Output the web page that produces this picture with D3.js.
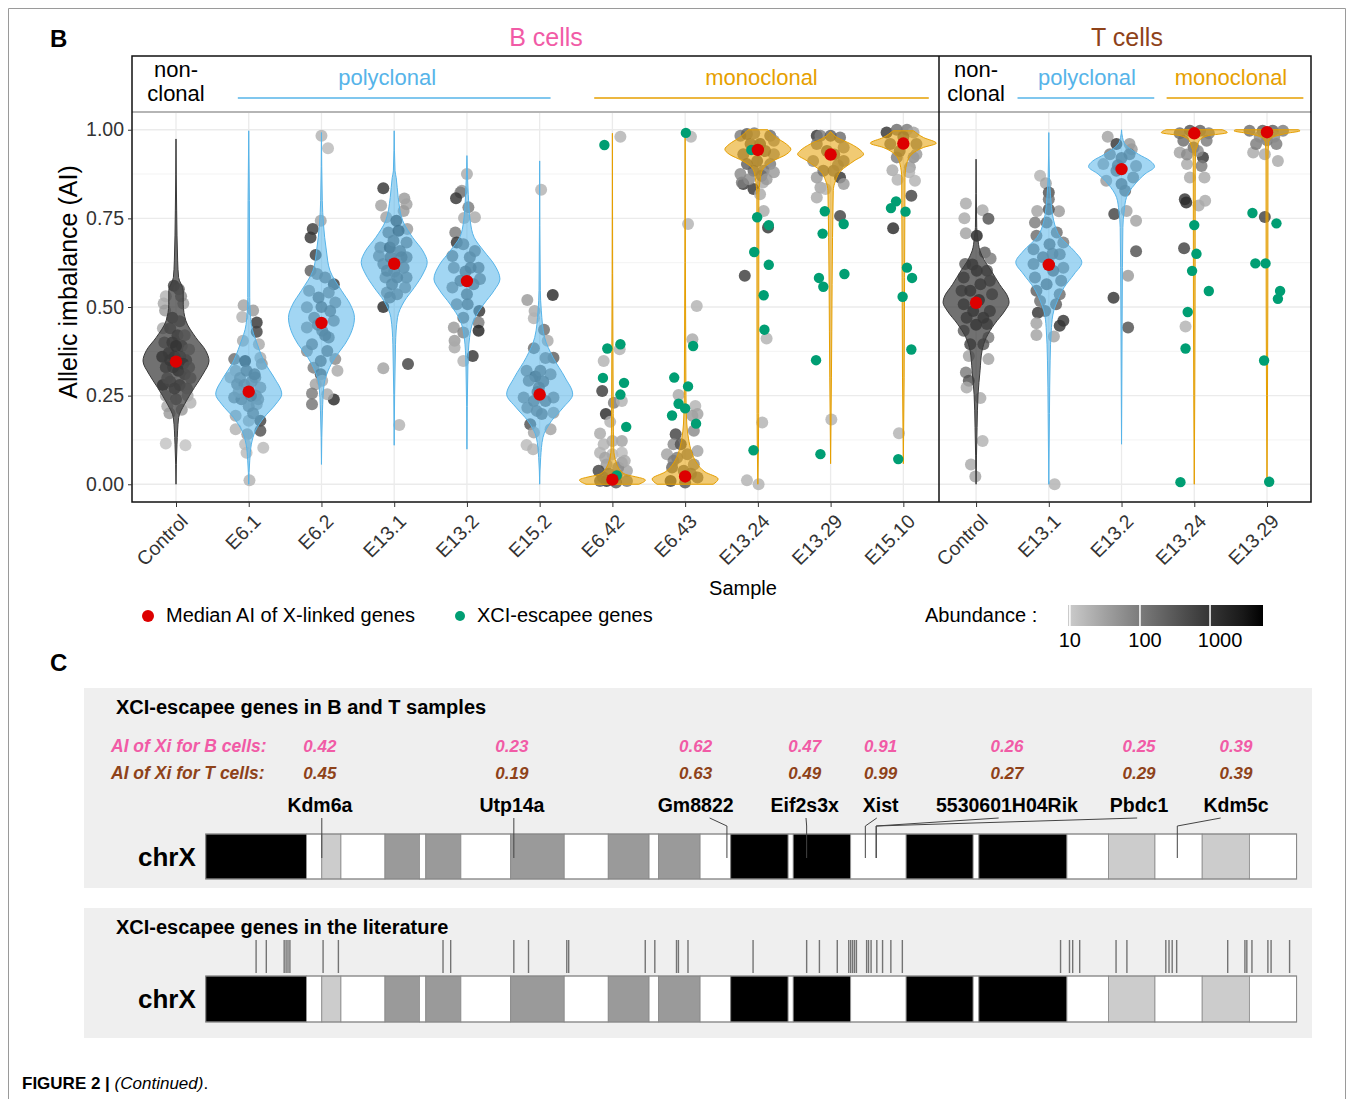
<!DOCTYPE html>
<html>
<head>
<meta charset="utf-8">
<script src="https://cdn.jsdelivr.net/npm/d3@7"></script>
<style>
  body { margin: 0; background: #fff; }
  text { font-family: "Liberation Sans", Arial, Helvetica, sans-serif; }
</style>
</head>
<body>
<div id="chart"></div>
<script>
// ---------- data: panel B ----------
const sampleIds = ["B_Control","B_E6.1","B_E6.2","B_E13.1","B_E13.2","B_E15.2","B_E6.42","B_E6.43","B_E13.24","B_E13.29","B_E15.10",
                   "T_Control","T_E13.1","T_E13.2","T_E13.24","T_E13.29"];
const sampleLabels = ["Control","E6.1","E6.2","E13.1","E13.2","E15.2","E6.42","E6.43","E13.24","E13.29","E15.10",
                      "Control","E13.1","E13.2","E13.24","E13.29"];
const clonality = ["non","poly","poly","poly","poly","poly","mono","mono","mono","mono","mono","non","poly","poly","mono","mono"];
const medianAI = [0.346,0.261,0.455,0.622,0.573,0.253,0.013,0.022,0.943,0.930,0.961,0.512,0.619,0.889,0.990,0.993];
const yTicks = [0, 0.25, 0.5, 0.75, 1];
const abundanceTicks = [10, 100, 1000];

// violin outline per sample: [AI, relative half width]
const violinShape = [
  [[0,0],[0.113,0.03],[0.188,0.08],[0.226,0.26],[0.273,0.56],[0.311,0.82],[0.348,1],[0.377,0.9],[0.414,0.6],[0.461,0.3],[0.508,0.22],[0.546,0.22],[0.583,0.08],[0.63,0.05],[0.771,0.02],[0.974,0]],
  [[0,0],[0.066,0.03],[0.113,0.08],[0.15,0.2],[0.188,0.46],[0.226,0.82],[0.254,1],[0.301,0.77],[0.339,0.51],[0.395,0.26],[0.451,0.08],[0.527,0.03],[0.8,0.02],[0.997,0]],
  [[0.056,0],[0.207,0.03],[0.282,0.08],[0.32,0.2],[0.357,0.41],[0.395,0.71],[0.433,0.92],[0.47,1],[0.508,0.87],[0.546,0.61],[0.602,0.26],[0.658,0.15],[0.734,0.06],[0.8,0.025],[0.992,0]],
  [[0.11,0],[0.395,0.04],[0.47,0.1],[0.517,0.31],[0.555,0.61],[0.593,0.87],[0.626,1],[0.658,0.87],[0.696,0.56],[0.743,0.26],[0.809,0.12],[0.865,0.06],[0.884,0.025],[0.997,0]],
  [[0.099,0],[0.339,0.03],[0.414,0.08],[0.461,0.2],[0.508,0.51],[0.546,0.82],[0.579,1],[0.621,0.82],[0.658,0.51],[0.696,0.22],[0.743,0.1],[0.818,0.04],[0.927,0]],
  [[0,0],[0.075,0.03],[0.132,0.1],[0.179,0.36],[0.216,0.71],[0.254,1],[0.301,0.77],[0.357,0.41],[0.414,0.15],[0.489,0.05],[0.546,0.02],[0.912,0]],
  [[0,0.8],[0.012,1],[0.03,0.35],[0.06,0.12],[0.1,0.04],[0.2,0.025],[0.99,0]],
  [[0,0.85],[0.015,1],[0.035,0.6],[0.06,0.35],[0.09,0.2],[0.13,0.1],[0.17,0.05],[0.25,0.025],[1,0]],
  [[0,0],[0.2,0.025],[0.809,0.03],[0.865,0.08],[0.889,0.15],[0.912,0.46],[0.931,0.87],[0.945,1],[0.959,0.87],[0.978,0.56],[1,0.3]],
  [[0.058,0],[0.3,0.025],[0.828,0.08],[0.856,0.15],[0.884,0.31],[0.912,0.71],[0.931,1],[0.941,0.92],[0.96,0.61],[0.978,0.2],[0.995,0]],
  [[0.058,0],[0.3,0.025],[0.865,0.05],[0.903,0.1],[0.931,0.26],[0.95,0.61],[0.962,1],[0.978,0.61],[0.997,0.31]],
  [[0,0],[0.16,0.03],[0.254,0.06],[0.32,0.12],[0.376,0.18],[0.414,0.31],[0.452,0.56],[0.489,0.87],[0.513,1],[0.527,0.97],[0.564,0.71],[0.602,0.46],[0.63,0.26],[0.658,0.12],[0.696,0.05],[0.724,0.02],[0.917,0]],
  [[0,0],[0.2,0.02],[0.348,0.04],[0.442,0.08],[0.489,0.15],[0.517,0.26],[0.555,0.46],[0.593,0.77],[0.626,1],[0.658,0.77],[0.696,0.36],[0.743,0.15],[0.818,0.05],[0.865,0.02],[0.992,0]],
  [[0.113,0],[0.5,0.02],[0.724,0.04],[0.771,0.08],[0.809,0.15],[0.847,0.41],[0.875,0.71],[0.896,1],[0.912,0.87],[0.931,0.51],[0.96,0.1],[0.978,0.03],[1,0]],
  [[0,0],[0.5,0.025],[0.9,0.03],[0.94,0.04],[0.95,0.08],[0.969,0.15],[0.983,0.41],[0.992,1],[1,0.85]],
  [[0,0],[0.5,0.025],[0.92,0.03],[0.964,0.05],[0.978,0.15],[0.99,0.61],[0.997,1],[1,0.95]]
];

// X-linked genes per sample: [jitter (category units), AI, log10 abundance]
const genePoints = [
  [[-0.14,0.53,1.3],[-0.17,0.51,1.4],[-0.03,0.56,2.8],[0.04,0.55,2.2],[0.10,0.51,1.5],[0.07,0.53,1.8],[-0.15,0.49,1.6],
   [-0.18,0.44,1.4],[-0.08,0.44,2.2],[0.02,0.42,2.6],[0.12,0.42,1.6],[-0.16,0.40,2.0],[-0.05,0.40,2.8],[0.08,0.39,2.4],[0.18,0.38,1.5],
   [-0.19,0.36,3.2],[-0.10,0.37,2.9],[-0.02,0.36,3.0],[0.06,0.36,2.5],[0.14,0.35,2.2],[-0.14,0.33,2.6],[-0.04,0.33,2.7],[0.03,0.32,3.1],
   [0.12,0.31,2.4],[0.20,0.30,1.7],[-0.18,0.28,3.2],[-0.08,0.29,2.3],[0.05,0.28,2.6],[0.15,0.27,1.9],[-0.14,0.25,1.5],[0.16,0.25,1.4],
   [0.0,0.24,2.0],[-0.12,0.22,1.4],[0.08,0.21,1.6],[0.20,0.23,1.3],[-0.09,0.20,1.6],[-0.14,0.115,1.1],[0.13,0.11,1.1],[-0.05,0.47,2.5],
   [0.05,0.46,2.1],[-0.12,0.30,2.0],[0.1,0.34,3.0],[-0.02,0.27,2.6],[0.0,0.39,3.3],[-0.08,0.35,3.0],[0.18,0.33,1.8]],
  [[-0.07,0.505,1.5],[0.06,0.49,1.6],[0.11,0.456,3.0],[0.11,0.43,2.8],[-0.09,0.472,1.3],[-0.08,0.405,1.4],[0.14,0.395,1.4],[0.16,0.357,1.4],
   [-0.2,0.353,2.2],[-0.18,0.32,1.6],[-0.25,0.301,1.4],[0.18,0.339,1.7],[-0.16,0.282,2.1],[0.16,0.273,1.8],[0.09,0.301,2.0],[-0.05,0.348,3.3],
   [-0.2,0.245,2.0],[0.11,0.226,1.6],[-0.18,0.193,1.5],[0.0,0.179,1.4],[0.16,0.179,2.8],[-0.18,0.155,1.3],[0.16,0.151,2.6],[-0.02,0.141,1.6],
   [-0.05,0.113,1.2],[-0.03,0.089,1.2],[0.2,0.103,1.2],[0.01,0.011,1.3],[-0.12,0.30,2.0],[-0.06,0.28,2.2],[0.04,0.29,2.1],[0.1,0.25,2.0],
   [-0.1,0.24,2.3],[0.0,0.22,2.0],[0.06,0.2,2.2],[-0.03,0.32,2.4],[0.08,0.31,2.5],[-0.14,0.26,1.8],[0.13,0.24,1.9],[0.03,0.25,2.6]],
  [[-0.01,0.743,1.5],[-0.12,0.72,2.9],[-0.15,0.696,3.0],[-0.08,0.647,2.9],[-0.15,0.602,2.4],[-0.17,0.546,1.8],[0.17,0.564,2.9],[0.1,0.541,2.0],
   [-0.2,0.499,1.8],[0.19,0.513,2.0],[-0.1,0.47,2.1],[0.17,0.461,2.0],[-0.2,0.442,1.8],[0.01,0.433,2.2],[0.1,0.414,2.2],[-0.2,0.376,1.8],
   [0.19,0.353,1.8],[-0.11,0.329,2.0],[-0.01,0.31,2.6],[0.22,0.32,1.4],[0.01,0.292,1.4],[-0.08,0.282,1.5],[-0.13,0.256,2.0],[0.17,0.239,3.2],
   [-0.13,0.226,2.1],[0.08,0.254,1.4],[0.0,0.983,1.3],[0.09,0.948,1.2],[-0.06,0.593,2.0],[0.05,0.583,2.2],[-0.04,0.527,2.4],[0.12,0.489,2.3],
   [-0.13,0.395,2.2],[0.08,0.376,2.3],[-0.01,0.348,2.4],[0.05,0.42,2.5],[-0.05,0.45,2.3],[0.0,0.5,2.5]],
  [[-0.15,0.835,3.0],[-0.18,0.786,1.5],[-0.11,0.753,1.5],[0.14,0.806,1.6],[0.17,0.79,1.5],[0.13,0.771,1.6],[0.18,0.72,1.6],[0.03,0.743,3.0],
   [-0.08,0.71,2.2],[0.06,0.715,3.2],[-0.19,0.668,2.0],[-0.06,0.668,3.2],[0.17,0.682,2.2],[-0.21,0.644,2.0],[0.17,0.64,2.2],[-0.15,0.621,2.2],
   [0.13,0.611,2.3],[-0.12,0.583,2.0],[0.17,0.583,2.2],[-0.1,0.541,2.0],[0.04,0.536,2.2],[0.15,0.555,2.0],[-0.15,0.5,3.2],[-0.06,0.527,2.3],
   [-0.15,0.327,1.5],[0.19,0.339,2.8],[0.07,0.167,1.3],[-0.01,0.687,2.4],[0.08,0.658,2.4],[-0.1,0.602,2.4],[0.04,0.583,2.5],[-0.03,0.564,2.4],
   [0.1,0.64,2.5],[-0.05,0.64,2.6],[0.0,0.6,2.3]],
  [[0.0,0.875,1.4],[-0.07,0.828,1.6],[-0.09,0.823,2.0],[-0.15,0.807,3.0],[0.02,0.781,2.0],[-0.04,0.751,1.4],[0.11,0.753,1.4],[-0.16,0.71,2.0],
   [-0.14,0.682,3.0],[-0.2,0.644,2.2],[-0.05,0.677,2.2],[0.11,0.658,2.2],[0.16,0.611,2.3],[-0.18,0.611,2.0],[0.18,0.579,2.2],[-0.2,0.555,2.0],
   [0.0,0.536,2.4],[0.17,0.489,3.0],[-0.14,0.508,2.0],[-0.18,0.442,1.6],[-0.05,0.47,2.2],[0.16,0.456,2.0],[0.16,0.433,3.3],[-0.17,0.405,1.6],
   [-0.05,0.428,1.9],[-0.17,0.386,1.4],[-0.05,0.348,1.3],[0.08,0.362,3.0],[0.01,0.508,2.4],[0.05,0.611,2.5],[-0.09,0.574,2.4],[0.09,0.564,2.4],
   [0.04,0.64,2.3],[-0.02,0.6,2.5]],
  [[0.02,0.831,1.3],[-0.17,0.52,1.6],[-0.07,0.489,1.4],[-0.08,0.468,1.3],[0.18,0.534,3.2],[0.06,0.436,2.2],[0.11,0.405,1.4],[0.19,0.357,2.4],
   [-0.08,0.384,2.2],[0.08,0.356,2.0],[-0.18,0.32,2.0],[-0.06,0.304,3.0],[0.15,0.31,2.0],[0.19,0.245,2.0],[-0.15,0.292,2.1],[-0.22,0.245,2.0],
   [-0.17,0.216,2.0],[0.19,0.202,1.6],[-0.13,0.169,2.6],[0.15,0.155,1.5],[-0.08,0.146,1.5],[-0.18,0.111,1.2],[-0.09,0.099,1.3],[0.01,0.32,2.3],
   [-0.01,0.273,2.4],[0.08,0.235,2.3],[-0.08,0.235,2.3],[0.03,0.198,2.3],[-0.04,0.207,2.2],[0.05,0.29,2.4],[-0.03,0.26,2.5]],
  [[0.11,0.98,1.3],[-0.12,0.348,1.3],[-0.14,0.263,2.9],[0.02,0.23,2.0],[-0.09,0.198,3.2],[-0.03,0.176,1.3],[0.13,0.235,1.3],[0.13,0.122,1.5],
   [-0.17,0.143,1.4],[-0.12,0.113,1.3],[0.0,0.085,1.2],[0.13,0.089,1.2],[-0.17,0.089,1.3],[-0.08,0.056,1.6],[0.13,0.061,1.6],[-0.19,0.038,2.8],
   [0.2,0.038,1.5],[0.06,0.024,2.2],[-0.08,0.009,3.0],[0.2,0.009,2.0],[-0.17,0.009,2.4],[0.1,0.381,1.3],[0.0,0.122,1.4],[-0.1,0.075,1.5],
   [0.08,0.047,1.8],[0.17,0.066,1.4],[-0.05,0.03,2.2],[0.05,0.005,2.5],[-0.13,0.02,2.3]],
  [[0.08,0.98,1.3],[0.04,0.734,1.3],[0.16,0.503,1.3],[0.1,0.409,1.4],[-0.09,0.252,1.4],[0.14,0.221,1.3],[-0.13,0.141,2.8],[0.1,0.193,1.6],
   [0.17,0.198,1.5],[-0.16,0.113,1.8],[0.12,0.151,1.8],[-0.25,0.085,1.5],[-0.11,0.075,2.0],[0.17,0.094,1.5],[-0.18,0.047,2.3],[0.12,0.056,1.8],
   [-0.2,0.009,2.8],[0.17,0.019,2.2],[-0.06,0.113,2.6],[0.03,0.085,2.0],[-0.02,0.038,2.2],[-0.16,0.066,2.0],[0.0,0.005,2.5],[0.08,0.03,2.2]],
  [[-0.2,0.847,3.0],[-0.22,0.851,2.0],[-0.06,0.833,3.0],[0.07,0.851,1.4],[0.03,0.818,1.4],[0.08,0.771,1.4],[0.14,0.724,3.0],[-0.18,0.588,2.9],
   [0.06,0.174,1.3],[0.12,0.411,1.3],[-0.15,0.011,1.3],[0.01,0.0,1.3],[-0.24,0.983,2.0],[-0.15,0.988,2.4],[0.17,0.983,2.2],[0.22,0.969,1.8],
   [-0.2,0.931,2.2],[0.22,0.931,1.8],[-0.15,0.903,2.4],[0.17,0.903,2.0],[-0.06,0.884,2.3],[0.08,0.884,2.0],[0.22,0.88,1.6],[-0.24,0.875,1.8],
   [0.03,0.96,2.5],[-0.1,0.96,2.3],[-0.01,0.912,2.4],[0.1,0.94,2.3],[-0.05,0.99,2.0],[0.05,0.87,2.2],[-0.12,0.86,1.8],[0.12,0.86,1.6]],
  [[-0.19,0.983,3.0],[-0.14,0.983,2.0],[0.13,0.978,2.2],[-0.19,0.96,2.0],[0.18,0.95,1.8],[-0.24,0.912,1.8],[0.18,0.912,2.0],[-0.19,0.865,1.6],
   [0.13,0.865,3.0],[0.18,0.847,1.6],[-0.14,0.837,1.5],[-0.19,0.809,1.4],[-0.07,0.833,1.3],[0.13,0.757,2.8],[0.01,0.183,1.3],[-0.1,0.884,2.2],
   [0.04,0.884,2.2],[0.0,0.983,2.4],[0.05,0.93,2.3],[-0.05,0.94,2.4],[0.1,0.9,2.0]],
  [[-0.23,0.992,3.0],[-0.09,1.0,2.2],[0.05,1.0,2.0],[0.14,0.992,1.5],[-0.18,0.96,2.2],[0.18,0.96,2.0],[-0.09,0.922,2.0],[0.14,0.922,1.8],
   [0.09,0.894,1.6],[-0.15,0.886,1.4],[-0.08,0.859,1.3],[0.08,0.88,1.3],[0.16,0.856,1.3],[0.11,0.814,2.8],[-0.14,0.722,3.2],[-0.06,0.144,1.3],
   [0.18,0.931,1.6],[0.0,0.98,2.4],[-0.05,0.94,2.2]],
  [[-0.14,0.792,1.4],[0.09,0.773,1.4],[-0.16,0.75,1.4],[0.17,0.749,2.6],[-0.14,0.708,1.5],[0.01,0.701,3.3],[0.12,0.654,2.4],[0.2,0.637,2.0],
   [-0.15,0.621,2.4],[0.15,0.602,2.6],[-0.17,0.583,2.6],[0.19,0.574,2.4],[-0.2,0.546,2.6],[0.22,0.536,2.4],[-0.17,0.508,2.8],[0.19,0.489,2.6],
   [-0.13,0.47,2.8],[0.15,0.452,2.6],[-0.17,0.433,2.4],[0.17,0.414,2.0],[-0.1,0.362,1.5],[0.17,0.353,1.5],[-0.14,0.315,2.0],[-0.1,0.292,2.6],
   [-0.13,0.273,1.4],[0.06,0.243,1.4],[0.09,0.122,1.3],[-0.07,0.056,1.4],[-0.01,0.022,1.5],[-0.08,0.395,2.8],[0.1,0.395,2.5],[-0.04,0.489,3.0],
   [0.06,0.564,2.8],[0.01,0.602,3.0],[-0.08,0.546,3.0],[0.1,0.47,3.0],[0.0,0.45,3.1],[-0.05,0.62,2.8],[0.04,0.52,3.2]],
  [[-0.12,0.87,1.3],[-0.04,0.849,1.5],[0.0,0.823,2.6],[0.0,0.804,2.2],[-0.16,0.771,1.5],[0.14,0.77,1.6],[0.0,0.776,2.6],[-0.19,0.738,2.0],
   [-0.03,0.738,2.3],[0.11,0.71,2.2],[-0.17,0.701,2.2],[0.2,0.682,2.0],[-0.21,0.663,2.2],[0.15,0.649,2.2],[-0.21,0.621,2.2],[0.2,0.611,2.0],
   [-0.19,0.583,2.2],[0.17,0.574,2.2],[-0.17,0.546,2.4],[0.15,0.536,2.2],[-0.12,0.517,2.2],[0.1,0.508,2.4],[-0.15,0.484,3.0],[0.2,0.461,3.0],
   [0.15,0.447,3.0],[-0.17,0.454,1.5],[-0.17,0.421,1.5],[0.07,0.417,1.5],[0.01,0.677,2.4],[-0.08,0.64,2.4],[0.06,0.602,2.5],[-0.03,0.564,2.5],
   [-0.05,0.489,2.4],[0.05,0.65,2.3],[0.0,0.62,2.5],[0.08,0.0,1.3]],
  [[-0.19,0.98,1.5],[-0.07,0.96,3.0],[0.11,0.96,1.6],[0.14,0.945,1.6],[-0.16,0.931,2.0],[0.11,0.931,2.2],[-0.25,0.903,1.6],[0.2,0.898,1.8],
   [-0.21,0.856,1.6],[0.16,0.865,2.0],[-0.1,0.762,2.8],[0.07,0.771,1.5],[0.2,0.743,1.5],[0.2,0.657,2.6],[0.09,0.588,1.6],[-0.11,0.526,3.0],
   [0.09,0.442,2.6],[-0.07,0.884,2.3],[0.0,0.847,2.4],[0.05,0.828,2.3],[0.0,0.92,2.4],[-0.05,0.9,2.4]],
  [[-0.2,0.936,1.5],[-0.1,0.903,1.4],[-0.06,0.865,1.4],[0.12,0.922,3.0],[0.1,0.898,2.0],[0.14,0.865,1.4],[-0.13,0.804,3.0],[-0.11,0.795,3.2],
   [0.15,0.8,1.4],[0.06,0.786,1.4],[-0.14,0.666,2.8],[-0.12,0.445,1.3],[-0.15,0.969,2.2],[0.17,0.969,2.0],[-0.06,0.997,2.6],[0.08,0.997,2.4],
   [-0.01,0.95,2.2],[0.2,0.99,2.0],[-0.2,0.99,2.2],[0.05,0.94,1.8],[-0.1,0.93,1.8]],
  [[-0.19,0.936,1.4],[-0.03,0.931,1.4],[0.15,0.912,1.4],[-0.03,0.754,2.8],[0.13,0.96,2.0],[-0.15,0.96,2.0],[-0.06,0.997,2.4],[0.08,0.997,2.4],
   [-0.24,0.997,2.2],[0.22,0.997,2.0],[0.0,0.97,2.0],[0.1,0.98,1.8],[-0.1,0.98,1.8]]
];

// XCI-escapee genes per sample: [jitter, AI]
const escapeePoints = [
  [],[],[],[],[],[],
  [[-0.11,0.957],[-0.07,0.383],[0.11,0.395],[-0.13,0.300],[0.16,0.286],[0.11,0.253],[0.19,0.162],[0.06,0.025]],
  [[0.01,0.991],[0.11,0.39],[-0.15,0.301],[0.04,0.276],[-0.09,0.227],[0.0,0.214],[-0.18,0.194],[0.15,0.171]],
  [[-0.09,0.943],[-0.01,0.753],[0.15,0.731],[-0.05,0.655],[0.15,0.619],[0.08,0.533],[0.09,0.436],[-0.06,0.096]],
  [[-0.08,0.770],[-0.11,0.707],[-0.16,0.582],[-0.1,0.557],[0.19,0.593],[-0.2,0.35],[-0.14,0.085],[0.18,0.734]],
  [[-0.1,0.798],[-0.17,0.779],[0.03,0.769],[0.05,0.611],[0.12,0.582],[-0.01,0.529],[0.11,0.38],[-0.07,0.071]],
  [],[],[],
  [[0.0,0.731],[0.03,0.65],[-0.03,0.602],[0.2,0.545],[-0.09,0.486],[-0.12,0.383],[-0.19,0.006]],
  [[-0.2,0.765],[0.13,0.736],[-0.16,0.623],[-0.02,0.623],[0.18,0.545],[0.15,0.523],[-0.04,0.349],[0.03,0.007]]
];

// ---------- data: panel C ----------
const bandEdges = [0,15.8,18.2,21.2,28.1,33.5,34.5,40.0,47.8,56.2,63.1,69.5,71.0,77.5,82.3,91.3,92.1,101.1,109.8,120.3,121.2,135.0,141.5,148.8,156.2,163.6,171.0];
const bandStain = ["gpos100","gneg","gpos33","gneg","gpos66","gneg","gpos66","gneg","gpos66","gneg","gpos66","gneg","gpos66","gneg",
                   "gpos100","gneg","gpos100","gneg","gpos100","gneg","gpos100","gneg","gpos33","gneg","gpos33","gneg"];
const geneNames = ["Kdm6a","Utp14a","Gm8822","Eif2s3x","Xist","5530601H04Rik","Pbdc1","Kdm5c"];
const genePosMb = [18.2, 48.3, 81.7, 94.2, 103.4, 105.1, 105.1, 152.3];
const geneLabelMb = [17.9, 48.0, 76.8, 93.9, 105.8, 125.6, 146.3, 161.5];
const geneLeaderMb = [18.2, 48.3, 79.0, 94.1, 105.2, 124.3, 146.0, 159.1];
const aiXiB = ["0.42","0.23","0.62","0.47","0.91","0.26","0.25","0.39"];
const aiXiT = ["0.45","0.19","0.63","0.49","0.99","0.27","0.29","0.39"];
const literatureMb = [7.9,9.5,12.3,12.6,12.9,13.2,18.4,20.8,37.2,38.4,48.3,50.6,56.6,56.9,68.9,70.4,73.8,74.1,75.6,
  85.8,94.2,96.2,99.0,100.8,101.1,101.4,101.7,102.0,103.6,103.9,104.3,105.2,106.1,107.4,109.2,
  134.0,135.4,135.9,137.0,142.7,144.4,150.5,151.0,151.5,152.2,160.2,162.9,163.2,164.0,166.5,167.0,169.9];

// ---------- setup ----------
const W = 1354, H = 1099;
const svg = d3.select("#chart").append("svg")
    .attr("width", W).attr("height", H)
    .style("background", "#fff");

const pink = "#f15ba6", brown = "#8e4219";
const blue = "#56B4E9", orange = "#E69F00", green = "#009E73", red = "#dd0000";
const groupColor = { non: "#3a3a3a", poly: blue, mono: orange };

// outer frame (open at the bottom)
svg.append("path")
    .attr("d", "M8.5,1099 V8.5 H1345.5 V1099")
    .attr("fill", "none").attr("stroke", "#9a9a9a").attr("stroke-width", 1);

const P = { left: 132, right: 1311, top: 112, bottom: 502, stripTop: 56, divider: 939 };
const x = d3.scalePoint().domain(sampleIds).range([176, 1267]);
const step = x.step();
const y = d3.scaleLinear().domain([-0.05, 1.05]).range([P.bottom, P.top]);
const halfW = 33;

const abund = d3.scaleLog().domain([9.4, 5700]).range([1068, 1263]);
const abundColor = d3.scaleLog().domain([9.4, 5700]).range(["#cccccc", "#000000"]).interpolate(d3.interpolateLab);

// ---------- panel B ----------
svg.append("text").attr("x", 50).attr("y", 47).attr("font-size", 24).attr("font-weight", "bold").text("B");
svg.append("text").attr("x", 546).attr("y", 46).attr("text-anchor", "middle").attr("font-size", 25)
    .attr("fill", pink).text("B cells");
svg.append("text").attr("x", 1127).attr("y", 46).attr("text-anchor", "middle").attr("font-size", 25)
    .attr("fill", brown).text("T cells");

// gridlines
const grid = svg.append("g");
const yMinor = [0.125, 0.375, 0.625, 0.875];
grid.selectAll(".gmin").data(yMinor).join("line")
    .attr("x1", P.left).attr("x2", P.right)
    .attr("y1", d => y(d)).attr("y2", d => y(d))
    .attr("stroke", "#f3f3f3").attr("stroke-width", 1);
grid.selectAll(".gmaj").data(yTicks).join("line")
    .attr("x1", P.left).attr("x2", P.right)
    .attr("y1", d => y(d)).attr("y2", d => y(d))
    .attr("stroke", "#ebebeb").attr("stroke-width", 1.3);
grid.selectAll(".gx").data(sampleIds).join("line")
    .attr("x1", d => x(d)).attr("x2", d => x(d))
    .attr("y1", P.top).attr("y2", P.bottom)
    .attr("stroke", "#ebebeb").attr("stroke-width", 1.3);

// jittered genes, coloured by abundance
const pts = svg.append("g");
sampleIds.forEach((id, i) => {
    pts.selectAll(null).data(genePoints[i]).join("circle")
        .attr("cx", d => x(id) + d[0] * step)
        .attr("cy", d => y(d[1]))
        .attr("r", 6)
        .attr("fill", d => abundColor(Math.pow(10, d[2])))
        .attr("fill-opacity", 0.82);
});

// violins
const violin = d3.area().curve(d3.curveMonotoneY);
const vg = svg.append("g");
sampleIds.forEach((id, i) => {
    const cx = x(id);
    violin.y(d => y(d[0])).x0(d => cx - d[1] * halfW).x1(d => cx + d[1] * halfW);
    const c = groupColor[clonality[i]];
    vg.append("path")
        .attr("d", violin(violinShape[i]))
        .attr("fill", c)
        .attr("fill-opacity", clonality[i] === "non" ? 0.72 : 0.55)
        .attr("stroke", c).attr("stroke-width", 1);
});

// escapee genes
const eg = svg.append("g");
sampleIds.forEach((id, i) => {
    eg.selectAll(null).data(escapeePoints[i]).join("circle")
        .attr("cx", d => x(id) + d[0] * step)
        .attr("cy", d => y(d[1]))
        .attr("r", 5.2)
        .attr("fill", green);
});

// medians
svg.append("g").selectAll("circle").data(sampleIds).join("circle")
    .attr("cx", d => x(d))
    .attr("cy", (d, i) => y(medianAI[i]))
    .attr("r", 6.2)
    .attr("fill", red);

// strip
const strip = svg.append("g");
strip.append("line").attr("x1", P.left).attr("x2", P.right).attr("y1", P.top).attr("y2", P.top)
    .attr("stroke", "#b5b5b5").attr("stroke-width", 2);
const xi = k => x(sampleIds[0]) + k * step;
const stripGroups = [
    { label: "polyclonal", c: blue, from: 0.85, to: 5.15, shift: -7 },
    { label: "monoclonal", c: orange, from: 5.75, to: 10.35, shift: 0 },
    { label: "polyclonal", c: blue, from: 11.57, to: 13.45, shift: 1 },
    { label: "monoclonal", c: orange, from: 13.62, to: 15.5, shift: -4 }
];
stripGroups.forEach(g => {
    strip.append("line").attr("x1", xi(g.from)).attr("x2", xi(g.to)).attr("y1", 98).attr("y2", 98)
        .attr("stroke", g.c).attr("stroke-width", 1.3);
    strip.append("text").attr("x", (xi(g.from) + xi(g.to)) / 2 + g.shift).attr("y", 85)
        .attr("text-anchor", "middle").attr("font-size", 22).attr("fill", g.c).text(g.label);
});
[0, 11].forEach(k => {
    const t = strip.append("text").attr("x", xi(k)).attr("text-anchor", "middle").attr("font-size", 22).attr("fill", "#000");
    t.append("tspan").attr("x", xi(k)).attr("y", 77).text("non-");
    t.append("tspan").attr("x", xi(k)).attr("y", 101).text("clonal");
});

// panel borders
const bord = svg.append("g").attr("fill", "none").attr("stroke", "#111").attr("stroke-width", 1.5);
bord.append("rect").attr("x", P.left).attr("y", P.stripTop).attr("width", P.right - P.left).attr("height", P.bottom - P.stripTop);
bord.append("line").attr("x1", P.divider).attr("x2", P.divider).attr("y1", P.stripTop).attr("y2", P.bottom);

// axes
const yAxis = svg.append("g").attr("transform", `translate(${P.left},0)`)
    .call(d3.axisLeft(y).tickValues(yTicks).tickFormat(d3.format(".2f")).tickSize(4).tickPadding(4));
yAxis.select(".domain").remove();
yAxis.selectAll("line").attr("stroke", "#333");
yAxis.selectAll("text").attr("font-size", 19.5).attr("fill", "#333")
    .style("font-family", '"Liberation Sans", Arial, sans-serif');

const xAxis = svg.append("g").attr("transform", `translate(0,${P.bottom})`)
    .call(d3.axisBottom(x).tickFormat((d, i) => sampleLabels[i]).tickSize(5).tickPadding(2));
xAxis.select(".domain").remove();
xAxis.selectAll("line").attr("stroke", "#333");
xAxis.selectAll("text")
    .attr("font-size", 19.5).attr("fill", "#333")
    .style("font-family", '"Liberation Sans", Arial, sans-serif')
    .attr("text-anchor", "end")
    .attr("transform", "translate(0,8) rotate(-45)")
    .attr("dy", "0.71em").attr("y", 4);

svg.append("text").attr("transform", "translate(77,282) rotate(-90)").attr("text-anchor", "middle")
    .attr("font-size", 25).text("Allelic imbalance (AI)");
svg.append("text").attr("x", 743).attr("y", 595).attr("text-anchor", "middle").attr("font-size", 20).text("Sample");

// legend
svg.append("circle").attr("cx", 148).attr("cy", 616).attr("r", 6).attr("fill", red);
svg.append("text").attr("x", 166).attr("y", 622).attr("font-size", 20).text("Median AI of X-linked genes");
svg.append("circle").attr("cx", 460).attr("cy", 616).attr("r", 5).attr("fill", green);
svg.append("text").attr("x", 477).attr("y", 622).attr("font-size", 20).text("XCI-escapee genes");
svg.append("text").attr("x", 925).attr("y", 622).attr("font-size", 20).text("Abundance :");

const grad = svg.append("defs").append("linearGradient").attr("id", "abundGrad");
d3.range(0, 1.0001, 0.1).forEach(t => {
    const v = abund.invert(1068 + t * 195);
    grad.append("stop").attr("offset", t).attr("stop-color", abundColor(v));
});
svg.append("rect").attr("x", abund.range()[0]).attr("y", 605).attr("width", abund.range()[1] - abund.range()[0])
    .attr("height", 21).attr("fill", "url(#abundGrad)");
svg.append("g").selectAll("line").data(abundanceTicks).join("line")
    .attr("x1", d => abund(d)).attr("x2", d => abund(d)).attr("y1", 605).attr("y2", 626)
    .attr("stroke", "#fff").attr("stroke-width", 1.5);
svg.append("g").selectAll("text").data(abundanceTicks).join("text")
    .attr("x", d => abund(d) + (String(d).length - 2) * 5).attr("y", 647).attr("text-anchor", "middle")
    .attr("font-size", 20).text(d => d);

// ---------- panel C ----------
svg.append("text").attr("x", 50).attr("y", 671).attr("font-size", 24).attr("font-weight", "bold").text("C");

const chr = d3.scaleLinear().domain([0, 171]).range([205.7, 1296.6]);
const stainFill = { gpos100: "#000000", gpos66: "#9a9a9a", gpos33: "#cccccc", gneg: "#ffffff" };

function ideogram(y0, h) {
    const g = svg.append("g");
    g.selectAll("rect").data(bandStain).join("rect")
        .attr("x", (d, i) => chr(bandEdges[i]))
        .attr("width", (d, i) => chr(bandEdges[i + 1]) - chr(bandEdges[i]))
        .attr("y", y0).attr("height", h)
        .attr("fill", d => stainFill[d])
        .attr("stroke", "#8a8a8a").attr("stroke-width", 0.8);
    g.append("rect").attr("x", chr(0)).attr("y", y0).attr("width", chr(171) - chr(0)).attr("height", h)
        .attr("fill", "none").attr("stroke", "#888").attr("stroke-width", 1);
    svg.append("text").attr("x", 138).attr("y", y0 + h / 2 + 9).attr("font-size", 26).attr("font-weight", "bold").text("chrX");
}

// box 1
svg.append("rect").attr("x", 84).attr("y", 688).attr("width", 1228).attr("height", 200).attr("fill", "#efefef");
svg.append("text").attr("x", 116).attr("y", 714).attr("font-size", 20).attr("font-weight", "bold")
    .text("XCI-escapee genes in B and T samples");
svg.append("text").attr("x", 111).attr("y", 752).attr("font-size", 17.5).attr("font-weight", "bold")
    .attr("font-style", "italic").attr("fill", pink).text("AI of Xi for B cells:");
svg.append("text").attr("x", 111).attr("y", 779).attr("font-size", 17.5).attr("font-weight", "bold")
    .attr("font-style", "italic").attr("fill", brown).text("AI of Xi for T cells:");
svg.append("g").selectAll("text").data(aiXiB).join("text")
    .attr("x", (d, i) => chr(geneLabelMb[i])).attr("y", 752).attr("text-anchor", "middle")
    .attr("font-size", 17).attr("font-weight", "bold").attr("font-style", "italic").attr("fill", pink).text(d => d);
svg.append("g").selectAll("text").data(aiXiT).join("text")
    .attr("x", (d, i) => chr(geneLabelMb[i])).attr("y", 779).attr("text-anchor", "middle")
    .attr("font-size", 17).attr("font-weight", "bold").attr("font-style", "italic").attr("fill", brown).text(d => d);

ideogram(834, 45);

svg.append("g").selectAll("text").data(geneNames).join("text")
    .attr("x", (d, i) => chr(geneLabelMb[i])).attr("y", 812).attr("text-anchor", "middle")
    .attr("font-size", 19.5).attr("font-weight", "bold").text(d => d);
svg.append("g").selectAll("polyline").data(geneNames).join("polyline")
    .attr("points", (d, i) => {
        const lx = chr(geneLeaderMb[i]), gx = chr(genePosMb[i]);
        return `${lx},818 ${gx},826 ${gx},858`;
    })
    .attr("fill", "none").attr("stroke", "#444").attr("stroke-width", 1);

// box 2
svg.append("rect").attr("x", 84).attr("y", 908).attr("width", 1228).attr("height", 130).attr("fill", "#efefef");
svg.append("text").attr("x", 116).attr("y", 934).attr("font-size", 20).attr("font-weight", "bold")
    .text("XCI-escapee genes in the literature");
svg.append("g").selectAll("line").data(literatureMb).join("line")
    .attr("x1", d => chr(d)).attr("x2", d => chr(d)).attr("y1", 940).attr("y2", 973)
    .attr("stroke", "#555").attr("stroke-opacity", 0.8).attr("stroke-width", 1.4);
ideogram(976, 46);

// caption
const cap = svg.append("text").attr("x", 22).attr("y", 1089).attr("font-size", 17);
cap.append("tspan").attr("font-weight", "bold").text("FIGURE 2 | ");
cap.append("tspan").attr("font-style", "italic").text("(Continued)");
cap.append("tspan").text(".");
</script>
</body>
</html>
